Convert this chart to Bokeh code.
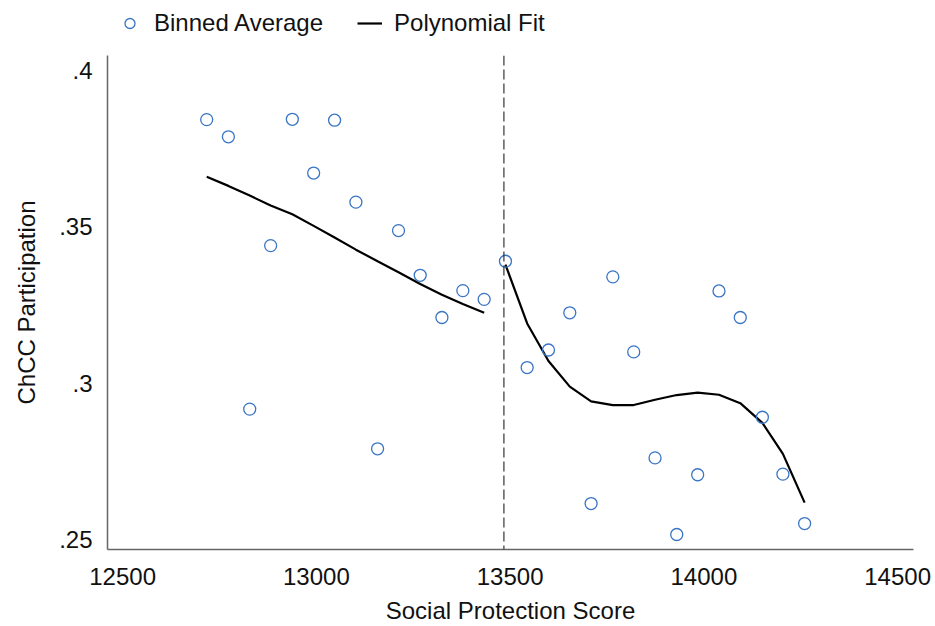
from bokeh.plotting import figure
from bokeh.layouts import column
from bokeh.models import Span, Legend, LegendItem, FixedTicker
from bokeh.embed import file_html
from bokeh.resources import INLINE

# binned averages and fitted values, left of the cutoff
left_x = [12717, 12773, 12828, 12882, 12938, 12993, 13047, 13102, 13158, 13212, 13268, 13324, 13378, 13433]
left_y = [0.3843, 0.3788, 0.2917, 0.3440, 0.3844, 0.3672, 0.3841, 0.3579, 0.2790, 0.3488, 0.3345, 0.3210, 0.3296, 0.3268]
left_fit = [0.3660, 0.3631, 0.3600, 0.3568, 0.3540, 0.3503, 0.3466, 0.3427, 0.3390, 0.3355, 0.3317, 0.3283, 0.3253, 0.3225]

# right of the cutoff
right_x = [13488, 13544, 13599, 13654, 13709, 13765, 13819, 13874, 13930, 13984, 14039, 14094, 14151, 14204, 14260]
right_y = [0.3390, 0.3050, 0.3106, 0.3225, 0.2615, 0.3340, 0.3100, 0.2761, 0.2516, 0.2707, 0.3295, 0.3210, 0.2891, 0.2709, 0.2551]
right_fit = [0.3379, 0.3191, 0.3071, 0.2989, 0.2942, 0.2930, 0.2930, 0.2947, 0.2962, 0.2970, 0.2963, 0.2936, 0.2873, 0.2774, 0.2618]

cutoff = 13484

x_ticks = [12500, 13000, 13500, 14000, 14500]
y_ticks = [0.25, 0.3, 0.35, 0.4]
y_labels = [".25", ".3", ".35", ".4"]

FONT = "Liberation Sans"
BLUE = "#3a75c4"
PTS_STYLE = dict(marker="circle", size=12, fill_color=None, line_color=BLUE, line_width=1.3)
FIT_STYLE = dict(line_color="black", line_width=2.2)

p = figure(width=935, height=571, x_range=(12461, 14541), y_range=(0.2468, 0.4048),
           output_backend="svg", toolbar_location=None,
           min_border_left=107, min_border_right=22, min_border_top=0, min_border_bottom=75)

p.xgrid.visible = False
p.ygrid.visible = False
p.outline_line_color = None

p.xaxis.ticker = FixedTicker(ticks=x_ticks)
p.yaxis.ticker = FixedTicker(ticks=y_ticks)
p.yaxis.major_label_overrides = dict(zip(y_ticks, y_labels))
p.xaxis.axis_label = "Social Protection Score"
p.yaxis.axis_label = "ChCC Participation"

for ax in (p.xaxis[0], p.yaxis[0]):
    ax.axis_line_color = "#666666"
    ax.axis_line_width = 1.5
    ax.major_tick_line_color = None
    ax.minor_tick_line_color = None
    ax.major_tick_out = 0
    ax.major_tick_in = 0
    ax.minor_tick_out = 0
    ax.major_label_text_font = FONT
    ax.major_label_text_font_size = "24px"
    ax.major_label_text_color = "#111111"
    ax.axis_label_text_font = FONT
    ax.axis_label_text_font_size = "24px"
    ax.axis_label_text_font_style = "normal"
    ax.axis_label_text_color = "#111111"

p.xaxis.major_label_standoff = 18
p.xaxis.axis_label_standoff = 9
p.yaxis.major_label_standoff = 15
p.yaxis.axis_label_standoff = 16

p.add_layout(Span(location=cutoff, dimension="height", line_color="#333333",
                  line_width=1.2, line_dash="10 4"))

p.line(left_x, left_fit, **FIT_STYLE)
p.line(right_x, right_fit, **FIT_STYLE)
p.scatter(left_x + right_x, left_y + right_y, **PTS_STYLE)

# legend strip above the plot (its frame lines up with the plot's frame);
# the renderers only lend their look to the legend and sit outside its range
lg = figure(width=935, height=55, x_range=(0, 1), y_range=(0, 1),
            output_backend="svg", toolbar_location=None, min_border=0)
lg.axis.visible = False
lg.grid.visible = False
lg.outline_line_color = None
lg_pts = lg.scatter([5], [5], **PTS_STYLE)
lg_fit = lg.line([5, 6], [5, 6], **FIT_STYLE)

legend = Legend(items=[LegendItem(label="Binned Average", renderers=[lg_pts]),
                       LegendItem(label="Polynomial Fit", renderers=[lg_fit])],
                orientation="horizontal", location=(10, 18),
                glyph_width=25, glyph_height=28, label_height=28, label_standoff=12,
                spacing=34, padding=0, margin=0, border_line_color=None,
                background_fill_alpha=0, label_text_font=FONT,
                label_text_font_size="24px", label_text_color="#111111")
lg.add_layout(legend)

open("out.html", "w").write(file_html(column(lg, p), INLINE))
